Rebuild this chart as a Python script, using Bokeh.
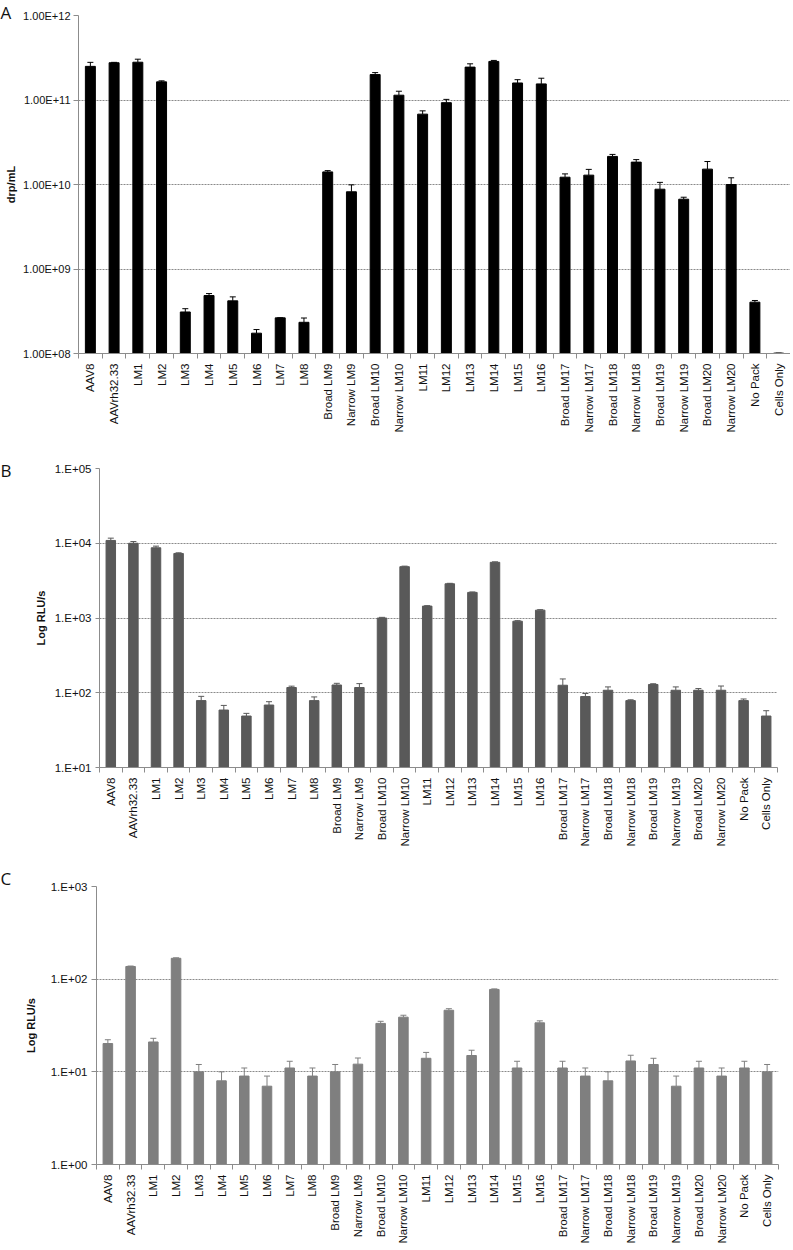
import math
from bokeh.plotting import figure
from bokeh.models import FixedTicker, Whisker, TeeHead, ColumnDataSource, Label, Range1d
from bokeh.embed import file_html
from bokeh.resources import INLINE

categories = ["AAV8", "AAVrh32.33", "LM1", "LM2", "LM3", "LM4", "LM5", "LM6", "LM7", "LM8",
              "Broad LM9", "Narrow LM9", "Broad LM10", "Narrow LM10", "LM11", "LM12", "LM13",
              "LM14", "LM15", "LM16", "Broad LM17", "Narrow LM17", "Broad LM18", "Narrow LM18",
              "Broad LM19", "Narrow LM19", "Broad LM20", "Narrow LM20", "No Pack", "Cells Only"]

# Panel A: drp/mL
a_values = [2.5e11, 2.76e11, 2.8e11, 1.64e11, 3.1e8, 4.85e8, 4.2e8, 1.74e8, 2.64e8, 2.34e8,
            1.41e10, 8.2e9, 2.0e11, 1.14e11, 6.8e10, 9.3e10, 2.45e11, 2.86e11, 1.59e11, 1.55e11,
            1.22e10, 1.29e10, 2.15e10, 1.84e10, 8.8e9, 6.7e9, 1.52e10, 1.0e10, 4.05e8, 1.01e8]
a_errors = [2.9e10, 3e9, 2.4e10, 4.5e9, 2.9e7, 2.7e7, 4.8e7, 1.8e7, 1e6, 2.9e7,
            5e8, 1.7e9, 1.1e10, 1.3e10, 6.4e9, 8.7e9, 2.3e10, 8e9, 1.5e10, 2.6e10,
            1.15e9, 2.2e9, 1.2e9, 1.3e9, 1.8e9, 3.7e8, 3.5e9, 2e9, 1.9e7, 0]
a_ticks = [1e8, 1e9, 1e10, 1e11, 1e12]

# Panel B: Log RLU/s
b_values = [1.09e4, 1.0e4, 8.7e3, 7.3e3, 78.5, 58.7, 48.8, 68.5, 117.5, 78.5,
            127, 117.5, 1000, 4860, 1442, 2870, 2200, 5560, 906, 1273,
            126, 89, 108, 78.5, 129, 108, 108, 108, 78.5, 48.8]
b_errors = [800, 540, 450, 150, 11, 9, 4.2, 7.4, 5, 9.4,
            6.7, 15, 20, 80, 20, 40, 30, 80, 15, 20,
            27, 8.6, 11.7, 2, 3, 11.7, 5.8, 15, 4, 8.7]
b_ticks = [1e1, 1e2, 1e3, 1e4, 1e5]

# Panel C: Log RLU/s
c_values = [20.2, 137, 21, 168, 10, 8, 9, 7, 11, 9,
            10, 12.1, 33.3, 38.9, 14, 46.2, 15, 77.5, 11, 33.8,
            11, 9, 8, 13.1, 12, 7, 11, 9, 11, 10]
c_errors = [2, 1.5, 2, 2, 2, 2, 2, 2, 2, 2,
            2, 2, 1.8, 1.9, 2.2, 1.8, 2.1, 1, 2, 1.7,
            2, 2, 2, 2, 2, 2, 2, 2, 2, 2]
c_ticks = [1e0, 1e1, 1e2, 1e3]

FONT = "Liberation Sans"
AXIS_GRAY = "#8c8c8c"
TEXT = "#111111"


def make_panel(values, errors, ticks, label_fmt, color, height, bl, br, bt, bb,
               letter, letter_pos, letter_side, ytitle, title_standoff,
               tick_out=5, tick_standoff=3, ytick_size="11px"):
    n = len(categories)
    xs = list(range(n))
    ymin, ymax = ticks[0], ticks[-1]
    src = ColumnDataSource(dict(
        x=xs, top=values, upper=[v + e for v, e in zip(values, errors)],
    ))
    p = figure(width=790, height=height, y_axis_type="log",
               x_range=Range1d(-0.5, n - 0.5), y_range=Range1d(ymin, ymax),
               output_backend="svg", toolbar_location=None,
               min_border_left=bl, min_border_right=br, min_border_top=bt, min_border_bottom=bb)
    p.outline_line_color = None
    p.background_fill_color = "white"

    p.vbar(x="x", top="top", bottom=ymin, width=0.42, source=src,
           fill_color=color, line_color=color)
    p.add_layout(Whisker(base="x", lower="top", upper="upper", source=src, dimension="height",
                         line_color=color, line_width=1,
                         upper_head=TeeHead(size=6, line_color=color, line_width=1),
                         lower_head=None))

    # x axis
    xa = p.xaxis[0]
    xa.ticker = FixedTicker(ticks=xs, minor_ticks=[i - 0.5 for i in range(n + 1)])
    xa.major_label_overrides = {i: c for i, c in enumerate(categories)}
    xa.major_label_orientation = math.pi / 2
    xa.major_label_text_font = FONT
    xa.major_label_text_font_size = "11.5px"
    xa.major_label_text_color = TEXT
    xa.major_label_standoff = 5
    xa.major_tick_line_color = None
    xa.major_tick_out = 0
    xa.major_tick_in = 0
    xa.minor_tick_line_color = AXIS_GRAY
    xa.minor_tick_out = 5
    xa.minor_tick_in = 0
    xa.axis_line_color = AXIS_GRAY
    p.xgrid.visible = False

    # y axis
    ya = p.yaxis[0]
    ya.ticker = FixedTicker(ticks=ticks)
    ya.major_label_overrides = {t: label_fmt(t) for t in ticks}
    ya.major_label_text_font = FONT
    ya.major_label_text_font_size = ytick_size
    ya.major_label_text_color = TEXT
    ya.major_label_standoff = tick_standoff
    ya.major_tick_out = tick_out
    ya.major_tick_in = 0
    ya.major_tick_line_color = AXIS_GRAY
    ya.minor_tick_line_color = None
    ya.axis_line_color = AXIS_GRAY
    ya.axis_label = ytitle
    ya.axis_label_text_font = FONT
    ya.axis_label_text_font_style = "bold"
    ya.axis_label_text_font_size = "11px"
    ya.axis_label_text_color = TEXT
    ya.axis_label_standoff = title_standoff
    p.ygrid.grid_line_color = "#8a8a8a"
    p.ygrid.grid_line_dash = "2 1"
    p.ygrid.grid_line_width = 1

    lx, ly = letter_pos
    p.add_layout(Label(x=lx, y=ly, x_units="canvas", y_units="canvas", text=letter,
                       text_align="left", text_baseline="top",
                       text_font="Open Sans", text_font_size="17px", text_color=TEXT),
                 letter_side)
    return p


def fmt_a(t):
    return "1.00E+%02d" % round(math.log10(t))


def fmt_b(t):
    return "1.E+%02d" % round(math.log10(t))


pA = make_panel(a_values, a_errors, a_ticks, fmt_a, "#000000", height=458,
                bl=78, br=0, bt=15, bb=105, letter="A", letter_pos=(0, 0), letter_side="below",
                ytitle="drp/mL", title_standoff=3)
pB = make_panel(b_values, b_errors, b_ticks, fmt_b, "#595959", height=402,
                bl=99, br=13, bt=10, bb=93, letter="B", letter_pos=(0, 0), letter_side="right",
                ytitle="Log RLU/s", title_standoff=5, tick_out=4, tick_standoff=4,
                ytick_size="11.5px")
pC = make_panel(c_values, c_errors, c_ticks, fmt_b, "#7f7f7f", height=386,
                bl=96, br=12, bt=26, bb=76, letter="C", letter_pos=(0, 6), letter_side="right",
                ytitle="Log RLU/s", title_standoff=11, tick_out=5, tick_standoff=4,
                ytick_size="11.5px")

open("out.html", "w").write(file_html([pA, pB, pC], INLINE))
